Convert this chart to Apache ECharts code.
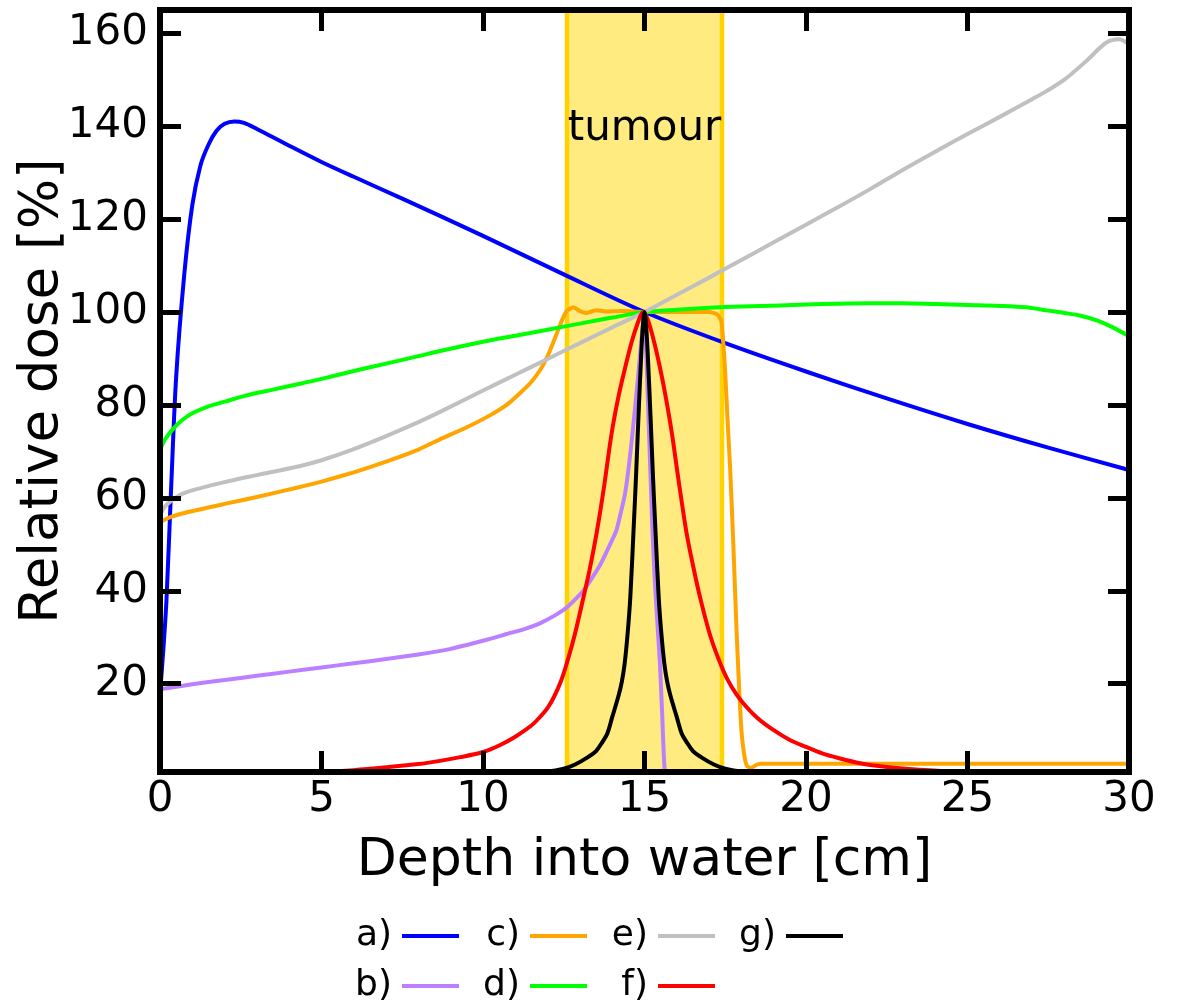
<!DOCTYPE html>
<html>
<head>
<meta charset="utf-8">
<script src="https://cdn.jsdelivr.net/npm/echarts@6/dist/echarts.min.js"></script>
<style>
  html, body { margin: 0; padding: 0; background: #ffffff; }
  #chart { width: 1179px; height: 1005px; }
</style>
</head>
<body>
<div id="chart"></div>
<script>
// Axis ticks
const xTicks = [0, 5, 10, 15, 20, 25, 30];
const yTicks = [20, 40, 60, 80, 100, 120, 140, 160];

// Depth range of the tumour [cm]
const tumourRange = [12.6, 17.4];

// Depth-dose curves: [depth cm, relative dose %]
const doseA = [[0,18],[0.1,27],[0.2,38],[0.35,63],[0.5,86],[0.75,108],[1.0,123],[1.25,131.5],[1.5,136],[1.75,139],[2.0,140.5],[2.3,141],[2.6,140.7],[3.0,139.4],[3.5,137.6],[4.0,135.8],[5,132.3],[6,129.1],[7.5,124.4],[10,116.4],[12.5,108.1],[15,100],[17.5,93.3],[20,87.2],[22.5,81.4],[25,75.9],[27.5,70.8],[30,66]];

const doseB = [[0,18.8],[1,19.9],[2,20.8],[3,21.7],[4,22.6],[5,23.5],[6,24.4],[7,25.3],[8,26.3],[9,27.5],[9.7,28.7],[10.3,29.8],[10.73,30.7],[11.3,31.8],[11.76,33],[12.2,34.6],[12.59,36.4],[13.11,40],[13.62,45.5],[13.9,49.5],[14.13,53],[14.4,61],[14.6,72],[14.8,86],[14.93,96],[15.0,100],[15.1,82],[15.2,62],[15.25,52.5],[15.32,42],[15.4,33],[15.48,24],[15.55,13],[15.63,1.2],[15.8,0.2],[30,0.2]];

const doseC = [[0,54.8],[0.3,55.8],[0.9,57],[2,58.7],[3,60.2],[4.3,62.3],[5,63.5],[6,65.5],[7,67.8],[8,70.4],[8.67,72.6],[9.5,75.2],[10.2,77.7],[10.73,80],[11.2,82.9],[11.5,85],[11.76,87.4],[12.0,90.5],[12.28,95.3],[12.45,98.3],[12.6,100.3],[12.8,101],[13.0,100.2],[13.2,99.8],[13.5,100.4],[13.8,100.1],[14.3,100.2],[15,100],[16,100],[17,100],[17.25,99.5],[17.38,98],[17.49,88],[17.57,77],[17.65,66.6],[17.75,50],[17.85,31.4],[17.93,19],[18.0,10],[18.08,5],[18.17,2.3],[18.3,1.8],[18.45,2.5],[18.6,2.8],[20,2.8],[25,2.8],[30,2.8]];

const doseD = [[0,70.3],[0.15,72.5],[0.4,74.8],[0.7,76.8],[1.0,78.2],[1.5,79.7],[2.0,80.7],[2.65,82],[3.5,83.3],[4.3,84.5],[5,85.6],[6,87.3],[7,88.9],[8,90.5],[8.67,91.6],[10,93.6],[11,94.9],[12,96.2],[13,97.5],[14,98.8],[15,100],[16,100.5],[17,100.9],[18,101.2],[19.2,101.4],[20,101.6],[21,101.8],[22,101.9],[23,101.9],[24,101.7],[25,101.5],[26,101.3],[26.8,101],[27.5,100.3],[28,99.8],[28.5,99.2],[29,98.2],[29.5,96.7],[30,94.8]];

const doseE = [[0,56.3],[0.2,58.5],[0.64,60.7],[1.2,62],[2.06,63.5],[3,64.9],[4.31,66.8],[5,68.1],[6,70.5],[7,73.3],[8,76.3],[8.67,78.5],[10,83.1],[11,86.5],[12,89.9],[13,93.3],[14,96.7],[15,100],[16,103.7],[17,107.4],[18,111.2],[19,115],[20,118.8],[21,122.6],[22,126.5],[22.9,130.2],[24,134.5],[25,138.3],[26,142],[27,145.8],[27.46,147.6],[28,150],[28.69,154.1],[29.3,158],[29.7,158.7],[30,157.6]];

const doseF = [[0,0.2],[3,0.5],[5,1.0],[6,1.4],[7,2.0],[8,2.7],[8.67,3.4],[9.3,4.2],[10,5.3],[10.5,6.7],[11,8.6],[11.5,11],[11.76,12.8],[12.0,14.8],[12.2,17.2],[12.4,20.3],[12.59,24.3],[12.85,30.8],[13.11,38.6],[13.3,44.5],[13.52,52.5],[13.75,62.5],[13.98,73.8],[14.2,82],[14.4,88],[14.6,93.5],[14.8,97.8],[14.95,100],[15.1,98.4],[15.3,93.5],[15.48,88],[15.65,82],[15.85,73.8],[16.05,64],[16.3,52.5],[16.5,45.5],[16.72,38.6],[17.05,30],[17.44,22.8],[17.7,19.3],[18,16.3],[18.47,12.8],[19,10],[19.5,7.9],[20,6.4],[20.5,5],[21,4],[21.67,2.9],[22.5,2.1],[23.5,1.5],[25,1.0],[27,0.6],[30,0.35]];

const doseG = [[0,0.1],[10,0.3],[12,1.1],[12.5,1.7],[12.85,2.6],[13.25,4.2],[13.5,5.5],[13.7,7.5],[13.85,9.3],[14.0,12.8],[14.2,17.5],[14.3,20.5],[14.385,24.3],[14.48,31],[14.56,38.6],[14.66,52.9],[14.74,65],[14.81,77],[14.9,91],[14.95,97],[15.0,100],[15.05,97],[15.1,91],[15.19,77],[15.26,65],[15.34,52.9],[15.44,38.6],[15.52,31],[15.615,24.3],[15.7,20.5],[15.8,17.5],[16.0,12.8],[16.15,9.3],[16.3,7.5],[16.5,5.5],[16.75,4.2],[17.15,2.6],[17.5,1.7],[18,1.1],[20,0.3],[30,0.1]];

const curves = [
  { name: 'a)', data: doseA, color: '#0000ff', smooth: 0.3 },
  { name: 'b)', data: doseB, color: '#bb80ff', smooth: 0.15 },
  { name: 'c)', data: doseC, color: '#ffa500', smooth: 0.15 },
  { name: 'd)', data: doseD, color: '#00ff00', smooth: 0.3 },
  { name: 'e)', data: doseE, color: '#c0c0c0', smooth: 0.3 },
  { name: 'f)', data: doseF, color: '#ff0000', smooth: 0.3 },
  { name: 'g)', data: doseG, color: '#000000', smooth: 0.35 }
];

const FONT = 'DejaVu Sans';

// Legend: two rows, text to the left of each line sample, line ends aligned per column
const legendSlots = [
  { name: 'a)', right: 720, top: 918 },
  { name: 'c)', right: 592, top: 918 },
  { name: 'e)', right: 464, top: 918 },
  { name: 'g)', right: 336, top: 918 },
  { name: 'b)', right: 720, top: 968 },
  { name: 'd)', right: 592, top: 968 },
  { name: 'f)', right: 464, top: 968 }
];

const axisLineStyle = { color: '#000', width: 6, cap: 'square' };
const tickStyle = { color: '#000', width: 5 };

const chart = echarts.init(document.getElementById('chart'), null, { renderer: 'canvas' });

const option = {
  animation: false,
  backgroundColor: '#ffffff',
  grid: { left: 160, right: 50, top: 10, bottom: 233, containLabel: false },
  xAxis: [
    {
      type: 'value', position: 'bottom', min: 0, max: 30, interval: 5, z: 5,
      name: 'Depth into water [cm]', nameLocation: 'middle', nameGap: 63,
      nameTextStyle: { fontFamily: FONT, fontSize: 52, color: '#000' },
      axisLine: { show: true, onZero: false, lineStyle: axisLineStyle },
      axisTick: { show: true, inside: true, length: 21, lineStyle: tickStyle, customValues: xTicks },
      axisLabel: { show: true, margin: 7, fontFamily: FONT, fontSize: 42, color: '#000', customValues: xTicks },
      splitLine: { show: false }
    },
    {
      type: 'value', position: 'top', min: 0, max: 30, interval: 5, z: 5,
      axisLine: { show: true, onZero: false, lineStyle: axisLineStyle },
      axisTick: { show: true, inside: true, length: 21, lineStyle: tickStyle, customValues: xTicks },
      axisLabel: { show: false },
      splitLine: { show: false }
    }
  ],
  yAxis: [
    {
      type: 'value', position: 'left', min: 1, max: 165, z: 5,
      name: 'Relative dose [%]', nameLocation: 'middle', nameGap: 90, nameMoveOverlap: false,
      nameTextStyle: { fontFamily: FONT, fontSize: 53, color: '#000' },
      axisLine: { show: true, onZero: false, lineStyle: axisLineStyle },
      axisTick: { show: true, inside: true, length: 21, lineStyle: tickStyle, customValues: yTicks },
      axisLabel: { show: true, margin: 12, fontFamily: FONT, fontSize: 42, color: '#000', customValues: yTicks },
      splitLine: { show: false }
    },
    {
      type: 'value', position: 'right', min: 1, max: 165, z: 5,
      axisLine: { show: true, onZero: false, lineStyle: axisLineStyle },
      axisTick: { show: true, inside: true, length: 21, lineStyle: tickStyle, customValues: yTicks },
      axisLabel: { show: false },
      splitLine: { show: false }
    }
  ],
  legend: legendSlots.map(s => ({
    data: [s.name],
    right: s.right,
    top: s.top,
    orient: 'horizontal',
    align: 'right',
    padding: 0,
    icon: 'rect',
    itemWidth: 57,
    itemHeight: 4,
    selectedMode: false,
    textStyle: { fontFamily: FONT, fontSize: 36, color: '#000', padding: [0, 5, 0, 0] }
  })),
  series: [
    {
      // tumour band
      type: 'line', name: 'tumour', data: [], z: 1, silent: true,
      markArea: {
        silent: true,
        itemStyle: { color: 'rgba(255,215,0,0.5)', borderColor: '#ffd200', borderWidth: 4.5 },
        label: {
          show: true, position: 'insideTop', distance: 100,
          formatter: 'tumour', fontFamily: FONT, fontSize: 42, color: '#000'
        },
        data: [[{ xAxis: tumourRange[0], yAxis: 1 }, { xAxis: tumourRange[1], yAxis: 165 }]]
      }
    }
  ].concat(curves.map((c, i) => ({
    type: 'line',
    name: c.name,
    data: c.data,
    symbol: 'none',
    showSymbol: false,
    smooth: c.smooth,
    clip: true,
    z: 2 + i * 0.01,
    color: c.color,
    itemStyle: { color: c.color },
    lineStyle: { color: c.color, width: 4, join: 'round', cap: 'round' }
  })))
};

chart.setOption(option);
</script>
</body>
</html>
